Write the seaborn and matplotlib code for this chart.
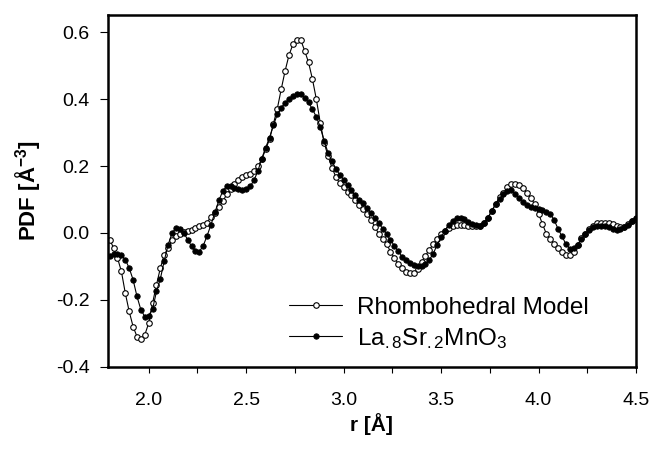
import numpy as np
import seaborn as sns
import matplotlib.pyplot as plt
from matplotlib.ticker import MultipleLocator

# r grid of the PDF data (Angstrom), sampled every 0.02 from 1.80
r_start = 1.80
r_step = 0.02

# Rhombohedral model PDF (open circles)
model = [
    -0.020, -0.045, -0.075, -0.115, -0.180, -0.235, -0.280, -0.310, -0.318, -0.305,
    -0.270, -0.210, -0.155, -0.105, -0.065, -0.045, -0.022, -0.010, -0.003, 0.002,
    0.007, 0.010, 0.014, 0.020, 0.025, 0.031, 0.049, 0.061, 0.077, 0.094,
    0.115, 0.132, 0.147, 0.159, 0.166, 0.172, 0.176, 0.184, 0.199, 0.220,
    0.250, 0.280, 0.327, 0.372, 0.430, 0.485, 0.532, 0.564, 0.578, 0.577,
    0.545, 0.510, 0.460, 0.400, 0.330, 0.270, 0.230, 0.195, 0.168, 0.148,
    0.136, 0.122, 0.112, 0.097, 0.082, 0.072, 0.058, 0.040, 0.018, -0.002,
    -0.018, -0.032, -0.056, -0.074, -0.092, -0.104, -0.116, -0.121, -0.120, -0.107,
    -0.088, -0.068, -0.050, -0.034, -0.017, -0.003, 0.007, 0.015, 0.022, 0.025,
    0.025, 0.025, 0.022, 0.020, 0.020, 0.022, 0.029, 0.045, 0.065, 0.087,
    0.107, 0.120, 0.136, 0.145, 0.147, 0.144, 0.133, 0.120, 0.103, 0.087,
    0.057, 0.027, -0.003, -0.018, -0.033, -0.046, -0.057, -0.065, -0.067, -0.058,
    -0.037, -0.016, -0.003, 0.011, 0.022, 0.029, 0.031, 0.031, 0.029, 0.026,
    0.022, 0.017, 0.019, 0.026, 0.035, 0.042,
]

# Measured La.8Sr.2MnO3 PDF (filled circles)
sample = [
    -0.068, -0.064, -0.063, -0.066, -0.080, -0.105, -0.140, -0.190, -0.230, -0.250,
    -0.247, -0.228, -0.175, -0.137, -0.083, -0.035, 0.000, 0.015, 0.013, 0.000,
    -0.020, -0.040, -0.054, -0.056, -0.038, -0.008, 0.025, 0.062, 0.097, 0.125,
    0.140, 0.140, 0.134, 0.130, 0.129, 0.132, 0.139, 0.157, 0.185, 0.222,
    0.255, 0.285, 0.322, 0.355, 0.375, 0.389, 0.401, 0.410, 0.416, 0.415,
    0.404, 0.390, 0.370, 0.347, 0.317, 0.275, 0.240, 0.215, 0.192, 0.174,
    0.159, 0.142, 0.127, 0.112, 0.099, 0.088, 0.075, 0.060, 0.045, 0.030,
    0.013, -0.003, -0.021, -0.038, -0.055, -0.071, -0.080, -0.090, -0.096, -0.099,
    -0.098, -0.092, -0.080, -0.062, -0.035, -0.013, 0.007, 0.024, 0.037, 0.045,
    0.046, 0.042, 0.034, 0.026, 0.023, 0.022, 0.030, 0.045, 0.067, 0.085,
    0.102, 0.116, 0.126, 0.127, 0.117, 0.105, 0.093, 0.083, 0.077, 0.075,
    0.072, 0.069, 0.064, 0.057, 0.039, 0.012, -0.010, -0.033, -0.047, -0.046,
    -0.036, -0.018, -0.003, 0.008, 0.017, 0.021, 0.022, 0.021, 0.017, 0.012,
    0.009, 0.011, 0.018, 0.025, 0.036, 0.045,
]

r = np.round(r_start + r_step * np.arange(len(model)), 2)

sns.set_theme(style="ticks")
plt.rcParams["font.family"] = ["Liberation Sans", "DejaVu Sans"]
plt.rcParams["mathtext.fontset"] = "custom"
plt.rcParams["mathtext.rm"] = "Liberation Sans"
plt.rcParams["mathtext.it"] = "Liberation Sans:italic"
plt.rcParams["mathtext.bf"] = "Liberation Sans:bold"
plt.rcParams["mathtext.default"] = "regular"
plt.rcParams["text.color"] = "black"
plt.rcParams["axes.labelcolor"] = "black"
plt.rcParams["xtick.color"] = "black"
plt.rcParams["ytick.color"] = "black"

fig = plt.figure(figsize=(6.53, 4.51), dpi=100)
ax = fig.add_axes([0.165, 0.187, 0.809, 0.780])

sns.lineplot(x=r, y=model, ax=ax, color="black", linewidth=0.8,
             marker="o", markersize=4.0, markerfacecolor="white",
             markeredgecolor="black", markeredgewidth=0.8,
             label="Rhombohedral Model")
sns.lineplot(x=r, y=sample, ax=ax, color="black", linewidth=0.8,
             marker="o", markersize=3.9, markerfacecolor="black",
             markeredgecolor="black", markeredgewidth=0.6,
             label=r"La$_{.8}$Sr$_{.2}$MnO$_3$")

ax.set_xlim(1.79, 4.5)
ax.set_ylim(-0.4, 0.652)
ax.xaxis.set_major_locator(MultipleLocator(0.5))
ax.xaxis.set_minor_locator(MultipleLocator(0.25))
ax.set_yticks([-0.4, -0.2, 0.0, 0.2, 0.4, 0.6])
ax.set_yticklabels(["-0.4", "-0.2", "0.0", "0.2", "0.4", "0.6"])

ax.tick_params(axis="y", which="major", direction="out", length=6,
               width=0.8, labelsize=14, pad=7)
ax.tick_params(axis="x", which="major", direction="out", length=4,
               width=0.8, labelsize=14, pad=14)
ax.tick_params(axis="x", which="minor", direction="out", length=4, width=0.8)

for side in ["left", "right", "top", "bottom"]:
    ax.spines[side].set_linewidth(1.8)
    ax.spines[side].set_color("black")

ax.set_xlabel("r [Å]", fontsize=15, fontweight="bold", labelpad=3)
ax.set_ylabel(r"PDF [Å$^{\mathbf{-3}}$]", fontsize=16, fontweight="bold", labelpad=9)

leg = ax.legend(loc="lower left", bbox_to_anchor=(0.343, 0.045), frameon=False,
                fontsize=17.5, handlelength=2.2, handletextpad=0.62,
                labelspacing=0.3, borderpad=0, borderaxespad=0)

plt.savefig("out.png", dpi=100)
